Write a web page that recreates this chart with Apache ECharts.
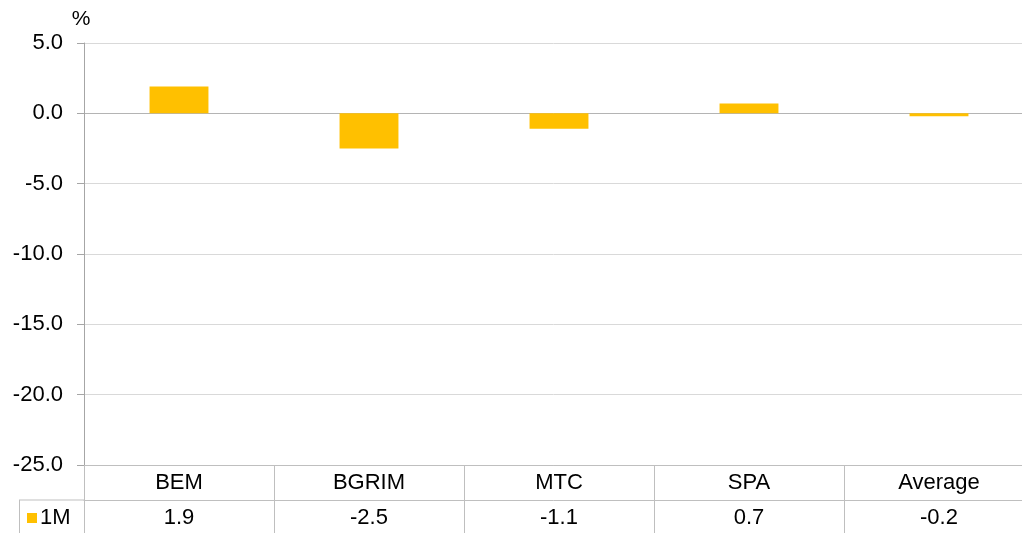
<!DOCTYPE html>
<html>
<head>
<meta charset="utf-8">
<script src="https://cdn.jsdelivr.net/npm/echarts@6/dist/echarts.min.js"></script>
<style>
  html, body { margin: 0; padding: 0; background: #fff; }
  #chart { width: 1022px; height: 533px; }
</style>
</head>
<body>
<div id="chart"></div>
<script>
const categories = ['BEM', 'BGRIM', 'MTC', 'SPA', 'Average']
const seriesName = '1M'
const values = [1.9, -2.5, -1.1, 0.7, -0.2]
const yMin = -25, yMax = 5, yStep = 5

const font = 'Liberation Sans, Arial, sans-serif'
const tableLine = '#BFBFBF'

const chart = echarts.init(document.getElementById('chart'))

chart.setOption({
  animation: false,
  textStyle: {fontFamily: font},
  grid: {left: 84, top: 43, width: 950, height: 422, outerBoundsMode: 'none'},
  legend: {
    left: 22, top: 502,
    itemWidth: 10, itemHeight: 10, itemGap: 0,
    icon: 'rect',
    data: [seriesName],
    textStyle: {fontSize: 22, color: '#000', padding: [0, 0, 0, -2]}
  },
  // 表格左侧的图例格子边框
  graphic: [
    {type: 'line', shape: {x1: 19, y1: 500, x2: 84, y2: 500}, style: {stroke: tableLine, lineWidth: 1}},
    {type: 'line', shape: {x1: 19.5, y1: 500, x2: 19.5, y2: 533}, style: {stroke: tableLine, lineWidth: 1}}
  ],
  xAxis: [
    {
      type: 'category',
      data: categories,
      position: 'bottom',
      axisLine: {onZero: false, lineStyle: {color: tableLine}},
      axisTick: {show: true, inside: false, length: 68, lineStyle: {color: tableLine}},
      axisLabel: {fontSize: 22, color: '#000', margin: 7}
    },
    {
      type: 'category',
      data: categories,
      position: 'bottom',
      offset: 35,
      axisLine: {onZero: false, lineStyle: {color: tableLine}},
      axisTick: {show: false},
      axisLabel: {
        fontSize: 22, color: '#000', margin: 7,
        formatter: (v, i) => values[i].toFixed(1)
      }
    }
  ],
  yAxis: {
    type: 'value',
    min: yMin, max: yMax, interval: yStep,
    name: '%',
    nameLocation: 'end',
    nameGap: 13,
    nameTextStyle: {fontSize: 21, color: '#000', align: 'center', padding: [0, 6, 0, 0]},
    axisLine: {show: true, lineStyle: {color: '#A6A6A6'}},
    axisTick: {show: true, length: 7, lineStyle: {color: '#A6A6A6'}},
    axisLabel: {fontSize: 22, color: '#000', margin: 21, formatter: v => v.toFixed(1)},
    splitLine: {
      show: true,
      lineStyle: {color: [tableLine, '#D9D9D9', '#D9D9D9', '#D9D9D9', '#D9D9D9', '#B4B4B4', '#D9D9D9'], width: 1}
    }
  },
  series: [
    {
      name: seriesName,
      type: 'bar',
      data: values,
      barWidth: '31%',
      itemStyle: {color: '#FFC000'}
    }
  ]
})
</script>
</body>
</html>
